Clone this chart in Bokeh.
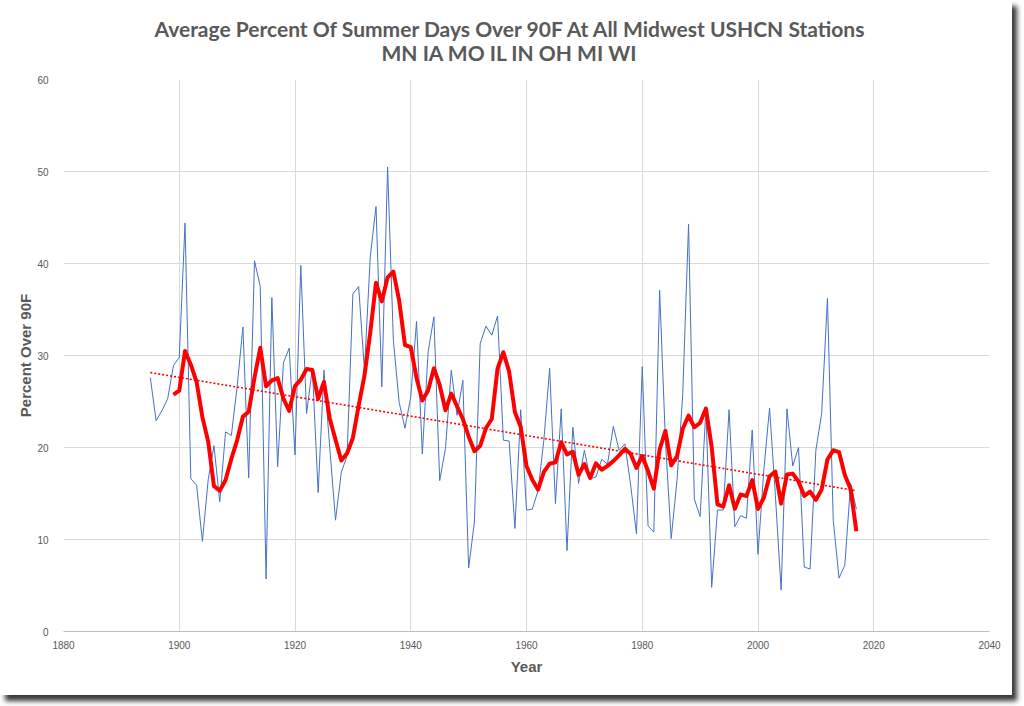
import numpy as np
import pandas as pd
from bokeh.plotting import figure
from bokeh.models import ColumnDataSource, Title, FixedTicker
from bokeh.embed import file_html
from bokeh.resources import INLINE

# ---- data ----
years = list(range(1895, 2018))
pct_over_90 = [
    27.6, 22.9, 24.0, 25.3, 28.9, 29.8, 44.4, 16.6, 15.9, 9.8,   # 1895-1904
    16.5, 20.2, 14.1, 21.7, 21.3, 26.6, 33.1, 16.7, 40.3, 37.5,  # 1905-1914
    5.7, 36.3, 17.9, 29.2, 30.8, 19.2, 39.8, 23.7, 28.6, 15.1,   # 1915-1924
    28.4, 20.0, 12.1, 17.3, 19.1, 36.7, 37.5, 28.4, 40.7, 46.2,  # 1925-1934
    26.6, 50.5, 31.6, 24.9, 22.1, 25.5, 33.7, 19.3, 30.4, 34.2,  # 1935-1944
    16.4, 19.9, 28.4, 23.5, 27.3, 6.9, 11.9, 31.3, 33.2, 32.2,   # 1945-1954
    34.3, 20.8, 20.7, 11.2, 24.1, 13.2, 13.3, 15.3, 20.8, 28.6,  # 1955-1964
    13.9, 24.2, 8.8, 22.2, 16.1, 19.7, 16.6, 16.8, 18.7, 18.2,   # 1965-1974
    22.3, 19.7, 20.4, 15.9, 10.6, 28.8, 11.5, 10.8, 37.1, 20.8,  # 1975-1984
    10.1, 16.4, 25.8, 44.3, 14.4, 12.5, 24.2, 4.8, 13.2, 13.2,   # 1985-1994
    24.1, 11.4, 12.6, 12.3, 21.9, 8.4, 17.5, 24.3, 14.8, 4.5,    # 1995-2004
    24.2, 18.0, 20.0, 7.0, 6.8, 19.7, 23.7, 36.2, 12.1, 5.8,     # 2005-2014
    7.2, 16.1, 13.3,                                             # 2015-2017
]
x_ticks = [1880, 1900, 1920, 1940, 1960, 1980, 2000, 2020, 2040]
y_ticks = [0, 10, 20, 30, 40, 50, 60]
title_line1 = "Average Percent Of Summer Days Over 90F At All Midwest USHCN Stations"
title_line2 = "MN IA MO IL IN OH MI WI"
x_title = "Year"
y_title = "Percent Over 90F"

# derived series (Excel-style trendlines): 5-year moving average and linear fit
ma5 = pd.Series(pct_over_90).rolling(5).mean().tolist()
coef = np.polyfit(years, pct_over_90, 1)
trend_x = [years[0], years[-1]]
trend_y = [float(np.polyval(coef, v)) for v in trend_x]

src = ColumnDataSource(dict(year=years, pct=pct_over_90, ma=ma5))

GREY = "#595959"

p = figure(width=1012, height=695, x_range=(1880, 2040), y_range=(0, 60),
           output_backend="svg", toolbar_location=None,
           min_border_left=63, min_border_right=23, min_border_top=79,
           min_border_bottom=64)
p.styles = {"box-shadow": "5px 6px 5px #3a3a3a"}
p.outline_line_color = None
p.background_fill_color = "white"
p.border_fill_color = "white"

p.xaxis.ticker = FixedTicker(ticks=x_ticks)
p.yaxis.ticker = FixedTicker(ticks=y_ticks)
p.xgrid.ticker = FixedTicker(ticks=x_ticks)
p.ygrid.ticker = FixedTicker(ticks=y_ticks)
p.grid.grid_line_color = "#d9d9d9"
p.grid.grid_line_width = 1

for ax in (p.xaxis[0], p.yaxis[0]):
    ax.major_tick_line_color = None
    ax.minor_tick_line_color = None
    ax.major_label_text_color = GREY
    ax.major_label_text_font = "Liberation Sans"
    ax.major_label_text_font_size = "10px"
    ax.axis_label_text_color = GREY
    ax.axis_label_text_font = "Liberation Sans"
    ax.axis_label_text_font_style = "bold"
    ax.axis_label_text_font_size = "15px"

p.xaxis.axis_line_color = "#bfbfbf"
p.yaxis.axis_line_color = None
p.xaxis.major_label_standoff = 3
p.yaxis.major_label_standoff = 9
p.xaxis.axis_label = x_title
p.yaxis.axis_label = y_title
p.xaxis.axis_label_standoff = 6
p.yaxis.axis_label_standoff = 0

p.line("year", "pct", source=src, line_color="#4472C4", line_width=1)
p.line(trend_x, trend_y, line_color="#FF0000", line_width=1.6, line_dash="2 2")
p.line("year", "ma", source=src, line_color="#FF0000", line_width=4,
       line_join="round")

p.add_layout(Title(text=title_line2, align="left", offset=318,
                   text_color=GREY, text_font="Lato", text_font_style="bold",
                   text_font_size="21px", standoff=29), "above")
p.add_layout(Title(text=title_line1, align="left", offset=91,
                   text_color=GREY, text_font="Lato", text_font_style="bold",
                   text_font_size="21px", standoff=-35), "above")

open("out.html", "w").write(file_html(p, INLINE))
